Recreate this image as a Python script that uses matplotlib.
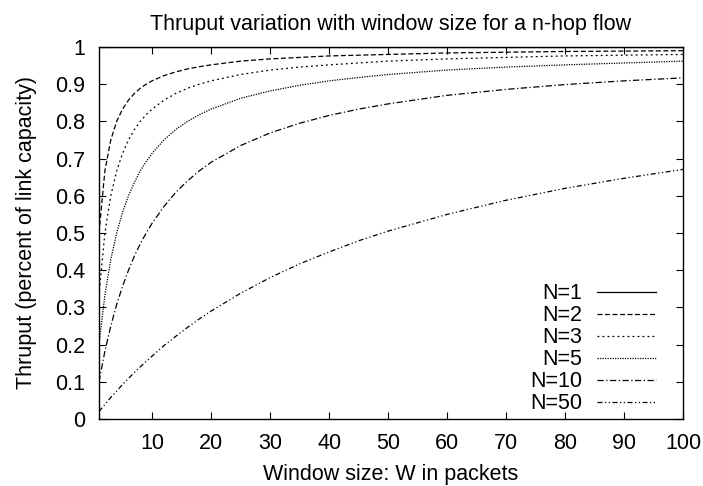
import matplotlib
matplotlib.use("Agg")
import matplotlib.pyplot as plt

plt.rcParams["font.family"] = ["Liberation Sans", "DejaVu Sans"]

# window sizes sampled along the x axis
window = [1, 2, 3, 4, 5, 6, 7, 8, 9, 10, 12, 14, 16, 18, 20, 25, 30, 35, 40,
          45, 50, 60, 70, 80, 90, 100]

thru_n1 = [1.0] * len(window)
thru_n2 = [0.5, 0.667, 0.75, 0.8, 0.833, 0.857, 0.875, 0.889, 0.9, 0.909,
           0.923, 0.933, 0.941, 0.947, 0.952, 0.962, 0.968, 0.972, 0.976,
           0.978, 0.980, 0.984, 0.986, 0.988, 0.989, 0.990]
thru_n3 = [0.333, 0.5, 0.6, 0.667, 0.714, 0.75, 0.778, 0.8, 0.818, 0.833,
           0.857, 0.875, 0.889, 0.9, 0.909, 0.926, 0.938, 0.946, 0.952,
           0.957, 0.962, 0.968, 0.972, 0.976, 0.978, 0.980]
thru_n5 = [0.2, 0.333, 0.429, 0.5, 0.556, 0.6, 0.636, 0.667, 0.692, 0.714,
           0.75, 0.778, 0.8, 0.818, 0.833, 0.862, 0.882, 0.897, 0.909,
           0.918, 0.926, 0.938, 0.946, 0.952, 0.957, 0.962]
thru_n10 = [0.1, 0.182, 0.25, 0.308, 0.357, 0.4, 0.438, 0.471, 0.5, 0.526,
            0.571, 0.609, 0.64, 0.667, 0.690, 0.735, 0.769, 0.795, 0.816,
            0.833, 0.847, 0.870, 0.886, 0.899, 0.909, 0.917]
thru_n50 = [0.02, 0.039, 0.058, 0.075, 0.093, 0.109, 0.125, 0.140, 0.155,
            0.169, 0.197, 0.222, 0.246, 0.269, 0.290, 0.338, 0.380, 0.417,
            0.449, 0.479, 0.505, 0.550, 0.588, 0.620, 0.647, 0.671]

labels = ["N=1", "N=2", "N=3", "N=5", "N=10", "N=50"]
series = [thru_n1, thru_n2, thru_n3, thru_n5, thru_n10, thru_n50]
dashes = [(None, None), (4, 2), (1.5, 2.5), (1, 1), (5, 2, 1, 2), (4, 2, 1, 2, 1, 2)]

FS = 15.5

fig = plt.figure(figsize=(7.03, 4.86), dpi=100)
ax = fig.add_axes([0.1408, 0.1379, 0.8308, 0.7654])

for lab, ys, d in zip(labels, series, dashes):
    ln, = ax.plot(window, ys, color="black", linewidth=0.9, label=lab)
    if d[0] is not None:
        ln.set_dashes(d)

ax.set_xlim(1, 100)
ax.set_ylim(0, 1)
ax.set_xticks(range(10, 101, 10))
ax.set_yticks([i / 10 for i in range(11)])
ax.set_yticklabels(["0", "0.1", "0.2", "0.3", "0.4", "0.5", "0.6", "0.7",
                    "0.8", "0.9", "1"])
ax.tick_params(direction="in", length=5, width=0.8, top=True, right=True,
               labelsize=FS, pad=10)
for sp in ax.spines.values():
    sp.set_linewidth(1.0)

ax.set_title("Thruput variation with window size for a n-hop flow",
             fontsize=FS, pad=12)
ax.set_xlabel("Window size: W in packets", fontsize=FS, labelpad=7)
ax.set_ylabel("Thruput (percent of link capacity)", fontsize=FS, labelpad=13)

ax.legend(loc="lower right", frameon=False, markerfirst=False, fontsize=FS,
          handlelength=2.75, handletextpad=0.7, labelspacing=0.05,
          borderaxespad=0.0, bbox_to_anchor=(0.969, -0.011))

fig.savefig("out.png", dpi=100)
